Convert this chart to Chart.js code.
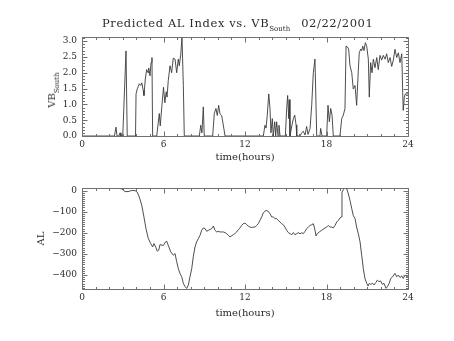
<!DOCTYPE html>
<html>
<head>
<meta charset="utf-8">
<script src="https://cdn.jsdelivr.net/npm/chart.js@4"></script>
<style>
  html, body { margin: 0; padding: 0; background: #fff; }
  #wrap { position: relative; width: 454px; height: 341px; overflow: hidden; }
  canvas { position: absolute; left: 0; }
  .txt { position: absolute; font-family: "DejaVu Serif", serif; color: #2b2b2b; white-space: nowrap; line-height: 1; }
  .sub { font-size: 7px; position: relative; top: 4px; letter-spacing: 0; }
</style>
</head>
<body>
<div id="wrap">
  <canvas id="vbChart" width="454" height="170" style="top:0"></canvas>
  <canvas id="alChart" width="454" height="171" style="top:170px"></canvas>
  <div class="txt" id="title" style="left:102px; top:18px; font-size:11.5px; letter-spacing:0.6px;">Predicted AL Index vs. VB<span class="sub">South</span><span style="margin-left:11px">02/22/2001</span></div>
  <div class="txt" id="vbLabel" style="left:52px; top:90px; font-size:10px; transform: translate(-50%,-50%) rotate(-90deg);">VB<span class="sub">South</span></div>
</div>
<script>
// UT hours and VB-south (mV/m) driver values
const vbHours = [0, 2.39, 2.50, 2.58, 2.72, 2.80, 2.87, 3.00, 3.24, 3.33, 3.94, 3.98, 4.07, 4.22, 4.32, 4.40, 4.51, 4.56, 4.66, 4.76, 4.86, 4.91, 5.01, 5.08, 5.15, 5.20,
  5.50, 5.69, 5.76, 5.89, 6.00, 6.10, 6.20, 6.26, 6.35, 6.48, 6.60, 6.72, 6.85, 6.97, 7.09, 7.16, 7.27, 7.36, 7.46, 7.53,
  8.64, 8.74, 8.83, 8.93, 9.00, 9.62, 9.74, 9.86, 9.96, 10.06, 10.16, 10.28, 10.40, 10.53,
  13.35, 13.47, 13.55, 13.64, 13.75, 13.84, 13.91, 14.01, 14.08, 14.19, 14.26, 14.33, 14.43, 14.50, 14.58,
  14.97, 15.07, 15.14, 15.22, 15.26, 15.31, 15.46, 15.56, 15.66, 15.76, 15.81,
  16.05, 16.17, 16.29, 16.42, 16.54, 16.64, 16.79, 16.91, 17.03, 17.15, 17.28, 17.52, 17.57, 17.67,
  18.01, 18.11, 18.21, 18.31, 18.41, 18.50, 18.99, 19.12, 19.24, 19.36, 19.44, 19.53, 19.63, 19.73, 19.86, 19.97,
  20.10, 20.22, 20.34, 20.41, 20.52, 20.59, 20.67, 20.76, 20.86, 20.96, 21.08, 21.15, 21.25, 21.35, 21.45, 21.57,
  21.70, 21.81, 21.94, 22.06, 22.18, 22.31, 22.43, 22.55, 22.68, 22.80, 22.92, 23.04, 23.17, 23.29, 23.41, 23.54,
  23.61, 23.65, 23.73, 23.80, 24.0];
const vbSouth = [0, 0, 0.28, 0, 0, 0.10, 0, 0, 2.69, 0, 0, 1.33, 1.49, 1.65, 1.60, 1.68, 1.44, 1.28, 1.80, 2.10, 2.00, 2.15, 1.90, 2.32, 2.48, 0,
  0, 0.71, 0.32, 1.00, 1.54, 1.05, 1.40, 1.23, 1.75, 2.22, 2.00, 2.46, 2.43, 2.00, 2.43, 2.22, 2.58, 3.13, 1.60, 0,
  0, 0.34, 0.10, 0.92, 0, 0, 0.71, 0.87, 0.65, 0.97, 0.70, 0.65, 0.35, 0,
  0, 0.34, 0.25, 0.66, 1.33, 0.87, 0.10, 0.55, 0, 0.45, 0, 0.45, 0, 0.34, 0,
  0, 0.87, 1.28, 0.55, 1.15, 0, 0.35, 0.55, 0.66, 0.35, 0,
  0, 0.10, 0.15, 0.03, 0.30, 0.05, 0.24, 0.97, 2.00, 2.43, 0, 0, 0.24, 0,
  0, 0.97, 0.45, 0.87, 0.65, 0, 0, 0.55, 0.66, 0.87, 2.84, 2.82, 2.75, 2.22, 2.00, 1.49,
  1.60, 0.97, 2.06, 2.63, 2.75, 2.70, 2.84, 2.70, 2.95, 2.84, 2.43, 1.23, 2.32, 2.00, 2.43, 2.16,
  2.48, 2.10, 2.55, 2.40, 2.55, 2.43, 2.60, 2.32, 2.48, 2.20, 2.40, 2.74, 2.48, 2.63, 2.32, 2.60,
  1.38, 0.81, 1.22, 1.33, 1.33];

// UT hours and predicted AL index (nT)
const alHours = [2.55, 2.92, 3.17, 3.39, 3.66, 3.90, 4.07, 4.22, 4.40, 4.56, 4.71, 4.88, 5.06, 5.20, 5.30, 5.45, 5.54, 5.65, 5.74, 5.99,
  6.15, 6.24, 6.35, 6.53, 6.72, 6.85, 6.97, 7.09, 7.21, 7.34, 7.46, 7.58, 7.71, 7.83, 7.95, 8.08, 8.19, 8.32, 8.44, 8.56,
  8.69, 8.81, 8.93, 9.06, 9.18, 9.30, 9.42, 9.55, 9.67, 9.79, 9.92, 10.03, 10.16, 10.28, 10.40, 10.53, 10.65, 10.77, 10.90, 11.02,
  11.14, 11.26, 11.39, 11.51, 11.63, 11.76, 11.87, 12.00, 12.13, 12.24, 12.37, 12.49, 12.61, 12.74, 12.86, 12.98, 13.10, 13.23, 13.35, 13.55,
  13.72, 13.84, 13.97, 14.08, 14.21, 14.33, 14.45, 14.58, 14.70, 14.82, 14.94, 15.07, 15.19, 15.31, 15.44, 15.56, 15.68, 15.81, 15.92, 16.05,
  16.17, 16.29, 16.42, 16.54, 16.66, 16.79, 16.91, 17.03, 17.10, 17.18, 17.23, 17.32, 17.47, 17.65, 17.82, 18.01, 18.13, 18.26, 18.38, 18.50,
  18.63, 18.75, 18.87, 18.99, 19.09, 19.14, 19.24, 19.36, 19.49, 19.61, 19.73, 19.86, 19.97, 20.10, 20.22, 20.34, 20.47, 20.59, 20.71, 20.83,
  20.96, 21.06, 21.15, 21.25, 21.40, 21.50, 21.64, 21.74, 21.86, 21.99, 22.11, 22.23, 22.38, 22.48, 22.62, 22.73, 22.87, 23.04, 23.17, 23.29,
  23.41, 23.54, 23.65, 23.78, 23.90, 24.00];
const alIndex = [11, 8, -5, -5, 0, 0, -8, -31, -70, -125, -180, -227, -251, -267, -251, -271, -287, -282, -256, -260,
  -243, -240, -259, -290, -306, -298, -337, -369, -392, -408, -439, -455, -463, -447, -408, -369, -314, -267, -243, -228,
  -212, -188, -177, -180, -193, -188, -185, -180, -168, -188, -196, -193, -196, -196, -196, -199, -204, -212, -219, -214,
  -209, -204, -196, -185, -177, -165, -157, -154, -162, -168, -173, -175, -173, -173, -165, -157, -141, -125, -105, -94,
  -99, -110, -125, -125, -133, -133, -141, -149, -157, -162, -173, -188, -199, -204, -209, -199, -209, -204, -199, -205,
  -200, -204, -193, -180, -173, -165, -162, -157, -173, -196, -215, -204, -196, -188, -180, -173, -165, -173, -173, -177,
  -165, -149, -141, -130, -125, -8, 5, 11, 8, -16, -47, -86, -118, -133, -173, -204, -243, -306, -369, -416,
  -439, -452, -439, -444, -439, -447, -435, -424, -431, -428, -444, -439, -463, -455, -439, -416, -408, -392, -408, -400,
  -412, -404, -416, -400, -408, -404];

// Axis tick values
const hourTicks = [0, 6, 12, 18, 24];
const vbTicks = [0, 0.5, 1.0, 1.5, 2.0, 2.5, 3.0];
const alTicks = [0, -100, -200, -300, -400];

const TEXT = '#2b2b2b';
const AXIS = '#707070';
const LINE = '#3a3a3a';
const FONT = 'DejaVu Serif';

// Box around the plot area with short inward major/minor ticks on all four sides
const framePlugin = {
  id: 'frame',
  afterDatasetsDraw(chart, args, o) {
    const {ctx, chartArea: a} = chart;
    const xs = chart.scales.x, ys = chart.scales.y;
    const snap = v => Math.round(v) + 0.5;
    const L = snap(a.left), R = snap(a.right), T = snap(a.top), B = snap(a.bottom);
    ctx.save();
    ctx.strokeStyle = AXIS;
    ctx.lineWidth = 1;
    ctx.beginPath();
    ctx.rect(L, T, R - L, B - T);
    const xTick = (v, len) => {
      const p = snap(xs.getPixelForValue(v));
      ctx.moveTo(p, B); ctx.lineTo(p, B - len);
      ctx.moveTo(p, T); ctx.lineTo(p, T + len);
    };
    const yTick = (v, len) => {
      const p = snap(ys.getPixelForValue(v));
      ctx.moveTo(L, p); ctx.lineTo(L + len, p);
      ctx.moveTo(R, p); ctx.lineTo(R - len, p);
    };
    const minors = (scale, step, majors, fn) => {
      const start = Math.ceil(scale.min / step - 1e-9), end = Math.floor(scale.max / step + 1e-9);
      for (let i = start; i <= end; i++) {
        const v = i * step;
        if (!majors.some(m => Math.abs(m - v) < step / 100)) fn(v, 2.5);
      }
    };
    o.xMajor.forEach(v => xTick(v, 5));
    minors(xs, o.xMinor, o.xMajor, xTick);
    o.yMajor.forEach(v => yTick(v, 5));
    minors(ys, o.yMinor, o.yMajor, yTick);
    ctx.stroke();
    ctx.restore();
  }
};

function makeChart(id, hours, values, cfg) {
  const points = hours.map((h, i) => ({x: h, y: values[i]}));
  return new Chart(document.getElementById(id), {
    type: 'line',
    data: { datasets: [{ data: points, borderColor: LINE, borderWidth: 0.9, pointRadius: 0, tension: 0, fill: false }] },
    options: {
      responsive: false,
      animation: false,
      devicePixelRatio: 1,
      layout: { padding: { left: 0, right: 46, top: cfg.padTop, bottom: 0 } },
      plugins: {
        legend: { display: false },
        tooltip: { enabled: false },
        frame: { xMajor: hourTicks, xMinor: 1, yMajor: cfg.yTicks, yMinor: cfg.yMinor }
      },
      scales: {
        x: {
          type: 'linear', min: 0, max: 24,
          afterBuildTicks: s => { s.ticks = hourTicks.map(v => ({value: v})); },
          afterFit: s => { s.height = cfg.xHeight; },
          grid: { display: false, drawTicks: false },
          border: { display: false },
          ticks: { color: TEXT, font: { family: FONT, size: 9 }, padding: 3, maxRotation: 0, autoSkip: false, callback: v => String(v) },
          title: { display: true, text: 'time(hours)', color: TEXT, font: { family: FONT, size: 10 }, padding: { top: cfg.xTitlePad, bottom: cfg.xTitlePad } }
        },
        y: {
          type: 'linear', min: cfg.yMin, max: cfg.yMax,
          afterBuildTicks: s => { s.ticks = cfg.yTicks.map(v => ({value: v})); },
          afterFit: s => { s.width = 82; },
          grid: { display: false, drawTicks: false },
          border: { display: false },
          ticks: { color: TEXT, font: { family: FONT, size: 9 }, padding: 5, autoSkip: false, callback: cfg.fmt },
          title: cfg.yTitle
            ? { display: true, text: cfg.yTitle, color: TEXT, font: { family: FONT, size: 10 }, padding: { top: 35, bottom: 35 } }
            : { display: false }
        }
      }
    },
    plugins: [framePlugin]
  });
}

makeChart('vbChart', vbHours, vbSouth, {
  padTop: 37, xHeight: 34, xTitlePad: 7,
  yMin: 0, yMax: 3.13, yTicks: vbTicks, yMinor: 0.1,
  fmt: v => Number(v).toFixed(1)
});

makeChart('alChart', alHours, alIndex, {
  padTop: 18, xHeight: 52, xTitlePad: 22,
  yMin: -466, yMax: 12, yTicks: alTicks, yMinor: 10,
  fmt: v => (v < 0 ? '\u2212' + Math.abs(v) : String(v)),
  yTitle: 'AL'
});
</script>
</body>
</html>
